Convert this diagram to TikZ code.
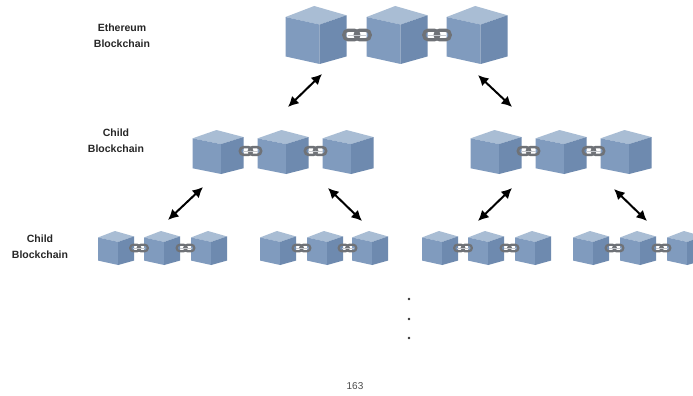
\documentclass[tikz,border=0pt]{standalone}
\usepackage{fontspec}
\setmainfont{Liberation Sans}
\usetikzlibrary{arrows.meta}
\definecolor{cubetop}{HTML}{A9BDD4}
\definecolor{cubeleft}{HTML}{809BBE}
\definecolor{cuberight}{HTML}{6E8AAF}
\definecolor{chaingray}{HTML}{6F7277}
\definecolor{chainlight}{HTML}{C4C7CC}
\tikzset{
  x=1pt, y=-1pt,
  label text/.style={font=\bfseries\fontsize{10.5}{16}\selectfont, align=center, text=black!85},
  link arrow/.style={line width=2pt, {Latex[length=10.5pt,width=10.5pt]}-{Latex[length=10.5pt,width=10.5pt]}},
  pics/block/.style={code={
    % unit cube: top at y=0, bottom at y=1 (y grows downward), width 1
    \fill[cubetop]   (-0.5,0.19) -- (-0.03,0) -- (0.5,0.16) -- (0.06,0.32) -- cycle;
    \fill[cubeleft]  (-0.5,0.19) -- (0.06,0.32) -- (0.06,1) -- (-0.5,0.87) -- cycle;
    \fill[cuberight] (0.06,0.32) -- (0.5,0.16) -- (0.5,0.87) -- (0.06,1) -- cycle;
  }},
  % chain of two oval links; argument = overall width in pt
  pics/chain/.style={code={
    \pgfmathsetmacro\cw{#1}
    \pgfmathsetmacro\lw{0.11*\cw}
    \pgfmathsetmacro\hh{0.16*\cw}
    \pgfmathsetmacro\rr{0.15*\cw}
    \draw[chaingray, line width=\lw pt, rounded corners=\rr pt]
      (-0.44*\cw,-\hh) rectangle (0.06*\cw,\hh);
    \draw[chaingray, line width=\lw pt, rounded corners=\rr pt]
      (-0.06*\cw,-\hh) rectangle (0.44*\cw,\hh);
    \draw[chainlight, line width=0.3*\lw pt] (-0.3*\cw,0) -- (0.3*\cw,0);
  }}
}
\begin{document}
\begin{tikzpicture}
\useasboundingbox (0,0) rectangle (693,396);
\fill[white] (0,0) rectangle (693,396);

% Ethereum main chain
\foreach \cx in {316,397,477}
  \pic[xscale=61, yscale=58] at (\cx,6) {block};
\foreach \cx in {357,437}
  \pic at (\cx,35) {chain=30};

% child chains, second level
\foreach \cx in {218,283,348,496,561,626}
  \pic[xscale=51, yscale=44] at (\cx,130) {block};
\foreach \cx in {250.5,315.5,528.5,593.5}
  \pic at (\cx,151) {chain=24};

% child chains, third level
\foreach \cx in {116,162,209,278,325,370,440,486,533,591,638,685}
  \pic[xscale=36, yscale=34] at (\cx,231) {block};
\foreach \cx in {139,185.5,301.5,347.5,463,509.5,614.5,661.5}
  \pic at (\cx,248) {chain=20};

% labels
\node[label text] (ethlabel) at (122,36) {Ethereum\\Blockchain};
\node[label text] (childlabel1) at (116,141) {Child\\Blockchain};
\node[label text] (childlabel2) at (40,247) {Child\\Blockchain};

% arrow end points
\coordinate (a1s) at (288,107); \coordinate (a1e) at (322,74);
\coordinate (a2s) at (478,75);  \coordinate (a2e) at (512,107);
\coordinate (b1s) at (168,220); \coordinate (b1e) at (203,187);
\coordinate (b2s) at (328,188); \coordinate (b2e) at (362,221);
\coordinate (b3s) at (478,221); \coordinate (b3e) at (512,188);
\coordinate (b4s) at (614,189); \coordinate (b4e) at (647,221);

\draw[link arrow] (a1s) -- (a1e);
\draw[link arrow] (a2s) -- (a2e);
\draw[link arrow] (b1s) -- (b1e);
\draw[link arrow] (b2s) -- (b2e);
\draw[link arrow] (b3s) -- (b3e);
\draw[link arrow] (b4s) -- (b4e);

% continuation dots
\foreach \dy in {299,319,338}
  \fill[black!80] (409,\dy) circle (1.3);

% page number
\node[font=\fontsize{10}{11}\selectfont, text=black!70] (pagenum) at (355,386) {163};
\end{tikzpicture}
\end{document}
